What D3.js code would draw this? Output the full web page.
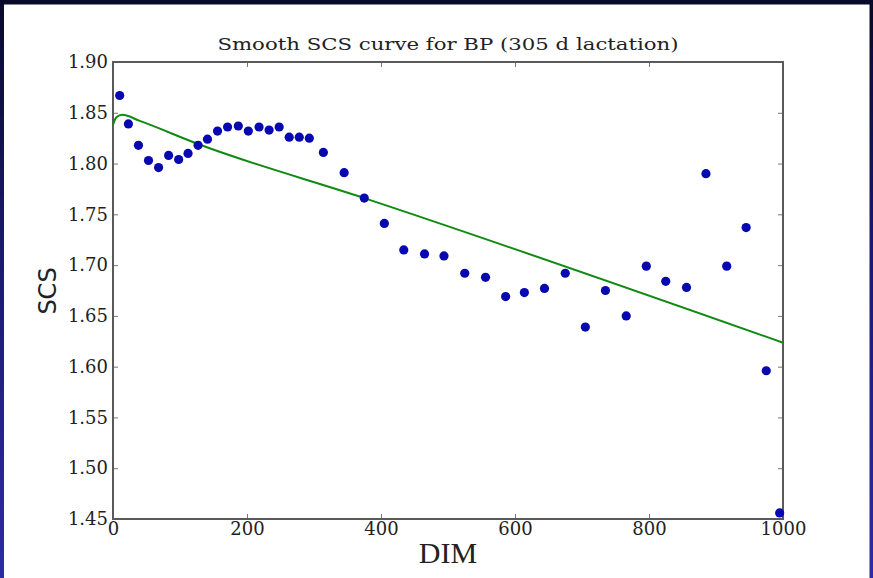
<!DOCTYPE html>
<html lang="en">
<head>
    <meta charset="UTF-8">
    <script src="https://d3js.org/d3.v7.min.js"></script>
    <title>Smooth SCS curve</title>
    <style>
        body { margin: 0; }
        svg { display: block; }
    </style>
</head>
<body>
    <div id="chart"></div>
    <script>
        // Data
        const dim = [10, 23, 38, 53, 68, 83, 98, 112, 127, 141, 156, 171, 187, 202, 218, 233, 248, 263, 278, 293,
            314, 345, 375, 405, 434, 465, 494, 525, 556, 586, 614, 644, 675, 705, 735, 766, 796, 825, 856, 885,
            916, 945, 975, 995];
        const scs = [1.867, 1.839, 1.818, 1.803, 1.796, 1.808, 1.804, 1.810, 1.818, 1.824, 1.832, 1.836, 1.837, 1.832,
            1.836, 1.833, 1.836, 1.826, 1.826, 1.825, 1.811, 1.791, 1.766, 1.741, 1.715, 1.711, 1.709, 1.692,
            1.688, 1.669, 1.673, 1.677, 1.692, 1.639, 1.675, 1.650, 1.699, 1.684, 1.678, 1.790, 1.699, 1.737,
            1.596, 1.456];

        // smooth fitted curve
        const curveDim = [0, 5, 14, 40, 128, 375, 1000];
        const curveScs = [1.838, 1.8455, 1.848, 1.842, 1.819, 1.766, 1.6236];

        const xTicks = [0, 200, 400, 600, 800, 1000];
        const yTicks = [1.45, 1.50, 1.55, 1.60, 1.65, 1.70, 1.75, 1.80, 1.85, 1.90];

        const width = 873;
        const height = 578;
        const margin = { top: 62, right: 90, bottom: 59, left: 113 };

        const svg = d3.select("#chart")
            .append("svg")
            .attr("width", width)
            .attr("height", height);

        // dark blue slide background
        const grad = svg.append("defs").append("linearGradient")
            .attr("id", "bg")
            .attr("x1", 0).attr("y1", 0).attr("x2", 0).attr("y2", 1);
        grad.append("stop").attr("offset", "0%").attr("stop-color", "#09092a");
        grad.append("stop").attr("offset", "45%").attr("stop-color", "#1a1a72");
        grad.append("stop").attr("offset", "100%").attr("stop-color", "#2c2ca4");

        svg.append("rect")
            .attr("width", width)
            .attr("height", height)
            .attr("fill", "url(#bg)");

        svg.append("rect")
            .attr("x", 4)
            .attr("y", 4.5)
            .attr("width", 865.5)
            .attr("height", height)
            .attr("fill", "#ffffff");

        svg.select("defs").append("clipPath")
            .attr("id", "plot-clip")
            .append("rect")
            .attr("x", margin.left)
            .attr("y", margin.top)
            .attr("width", width - margin.left - margin.right + 2)
            .attr("height", height - margin.top - margin.bottom);

        // Scales
        const xScale = d3.scaleLinear()
            .domain([0, 1000])
            .range([margin.left, 783]);

        const yScale = d3.scaleLinear()
            .domain([1.45, 1.90])
            .range([519, margin.top]);

        const tickColor = "#777";
        const labelFont = "DejaVu Serif";

        // Axes (ticks point inwards, like matplotlib)
        const styleAxis = g => {
            g.select(".domain").remove();
            g.selectAll(".tick line").attr("stroke", tickColor).attr("stroke-width", 1);
            g.selectAll(".tick text")
                .attr("fill", "#222")
                .attr("font-family", labelFont)
                .attr("font-size", 18);
        };

        svg.append("g")
            .attr("transform", `translate(${margin.left},0)`)
            .call(d3.axisLeft(yScale).tickValues(yTicks).tickFormat(d3.format(".2f")).tickSize(-5).tickPadding(5))
            .call(styleAxis);

        svg.append("g")
            .attr("transform", `translate(783,0)`)
            .call(d3.axisRight(yScale).tickValues(yTicks).tickFormat("").tickSize(-5))
            .call(styleAxis);

        svg.append("g")
            .attr("transform", `translate(0,519)`)
            .call(d3.axisBottom(xScale).tickValues(xTicks).tickFormat(d3.format("d")).tickSize(-5).tickPadding(3))
            .call(styleAxis);

        svg.append("g")
            .attr("transform", `translate(0,${margin.top})`)
            .call(d3.axisTop(xScale).tickValues(xTicks).tickFormat("").tickSize(-5))
            .call(styleAxis);

        // Frame
        svg.append("rect")
            .attr("x", margin.left)
            .attr("y", margin.top)
            .attr("width", 783 - margin.left)
            .attr("height", 519 - margin.top)
            .attr("fill", "none")
            .attr("stroke", "#5a5a5a")
            .attr("stroke-width", 2);

        // Fitted curve
        const line = d3.line()
            .x((d, i) => xScale(curveDim[i]))
            .y(d => yScale(d))
            .curve(d3.curveMonotoneX);

        svg.append("path")
            .datum(curveScs)
            .attr("fill", "none")
            .attr("stroke", "#0f8a12")
            .attr("stroke-width", 2)
            .attr("d", line);

        // Observed means
        svg.append("g")
            .attr("clip-path", "url(#plot-clip)")
            .selectAll("circle")
            .data(scs)
            .join("circle")
            .attr("cx", (d, i) => xScale(dim[i]))
            .attr("cy", d => yScale(d))
            .attr("r", 4.6)
            .attr("fill", "#0808b0");

        // Title and axis labels (the source image is slightly stretched sideways)
        svg.append("text")
            .attr("transform", "translate(448,50) scale(1.25,1)")
            .attr("text-anchor", "middle")
            .attr("font-family", labelFont)
            .attr("font-size", 17)
            .attr("fill", "#222")
            .text("Smooth SCS curve for BP (305 d lactation)");

        svg.append("text")
            .attr("x", 448)
            .attr("y", 563)
            .attr("text-anchor", "middle")
            .attr("font-family", "Liberation Serif")
            .attr("font-size", 30)
            .attr("fill", "#222")
            .text("DIM");

        svg.append("text")
            .attr("transform", "translate(56,291) rotate(-90)")
            .attr("text-anchor", "middle")
            .attr("font-family", "DejaVu Sans")
            .attr("font-size", 24)
            .attr("fill", "#222")
            .text("SCS");
    </script>
</body>
</html>
